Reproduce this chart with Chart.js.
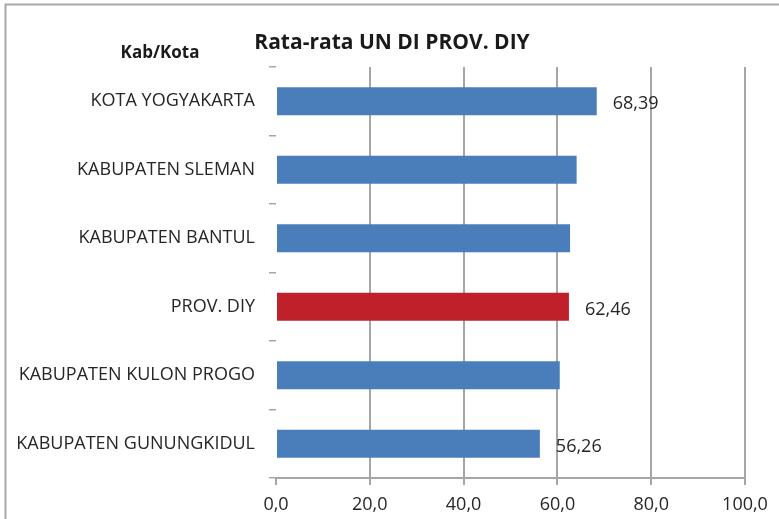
<!DOCTYPE html>
<html>
<head>
<meta charset="utf-8">
<script src="https://cdn.jsdelivr.net/npm/chart.js@4/dist/chart.umd.min.js"></script>
<style>
  html, body { margin: 0; padding: 0; background: #fff; }
  #wrap { width: 779px; height: 519px; position: relative; }
</style>
</head>
<body>
<div id="wrap"><canvas id="chart"></canvas></div>
<script>
  const categories = ['KOTA YOGYAKARTA', 'KABUPATEN SLEMAN', 'KABUPATEN BANTUL', 'PROV. DIY', 'KABUPATEN KULON PROGO', 'KABUPATEN GUNUNGKIDUL'];
  const values = [68.39, 64.1, 62.7, 62.46, 60.5, 56.26];
  const barColors = ['#4a7ebb', '#4a7ebb', '#4a7ebb', '#c0202a', '#4a7ebb', '#4a7ebb'];
  const showValue = [true, false, false, true, false, true];
  const xTicks = [0, 20, 40, 60, 80, 100];

  const FONT = "'Open Sans', sans-serif";
  const GRID = '#a6a6a6';
  const TEXT = '#262626';

  const fmt = (v, d) => v.toFixed(d).replace('.', ',');

  // frame, title and the axis caption
  const decor = {
    id: 'decor',
    beforeDraw(chart) {
      const c = chart.ctx;
      c.save();
      c.strokeStyle = '#a8a8a8';
      c.lineWidth = 2;
      c.beginPath();
      c.moveTo(5.5, 519);
      c.lineTo(5.5, 4.5);
      c.lineTo(779, 4.5);
      c.stroke();
      c.restore();
    },
    afterDraw(chart) {
      const c = chart.ctx;
      c.save();
      c.fillStyle = '#1a1a1a';
      c.textBaseline = 'middle';
      c.textAlign = 'center';
      c.font = "bold 21px " + FONT;
      c.fillText('Rata-rata UN DI PROV. DIY', 392, 43);
      c.font = "bold 17px " + FONT;
      c.fillText('Kab/Kota', 160, 53);
      c.restore();
    }
  };

  const valueLabels = {
    id: 'valueLabels',
    afterDatasetsDraw(chart) {
      const c = chart.ctx;
      const meta = chart.getDatasetMeta(0);
      c.save();
      c.fillStyle = TEXT;
      c.font = "18px " + FONT;
      c.textBaseline = 'middle';
      c.textAlign = 'left';
      meta.data.forEach((bar, i) => {
        if (!showValue[i]) return;
        c.fillText(fmt(values[i], 2), bar.x + 16, bar.y + 3);
      });
      c.restore();
    }
  };

  new Chart(document.getElementById('chart'), {
    type: 'bar',
    data: {
      labels: categories,
      datasets: [{
        data: values,
        backgroundColor: barColors,
        borderWidth: 0,
        categoryPercentage: 1,
        barPercentage: 0.41
      }]
    },
    options: {
      indexAxis: 'y',
      responsive: true,
      maintainAspectRatio: false,
      animation: false,
      layout: { padding: { top: 67, right: 34, left: 0, bottom: 0 } },
      plugins: { legend: { display: false }, tooltip: { enabled: false } },
      scales: {
        x: {
          min: 0,
          max: 100,
          afterBuildTicks: (s) => { s.ticks = xTicks.map(v => ({ value: v })); },
          afterFit: (s) => { s.height = 41; },
          ticks: {
            color: TEXT,
            font: { family: FONT, size: 18 },
            padding: 9,
            callback: (v) => fmt(v, 1)
          },
          grid: {
            color: (ctx) => ctx.tick && ctx.tick.value === 0 ? 'rgba(0,0,0,0)' : GRID,
            tickColor: GRID,
            lineWidth: 2,
            tickLength: 7
          },
          border: { display: true, color: GRID, width: 2 }
        },
        y: {
          afterFit: (s) => { s.width = 276; },
          ticks: {
            color: TEXT,
            font: { family: FONT, size: 18 },
            padding: 14
          },
          grid: {
            drawOnChartArea: false,
            offset: true,
            color: GRID,
            lineWidth: 1.5,
            tickLength: 7
          },
          border: { display: false }
        }
      }
    },
    plugins: [decor, valueLabels]
  });
</script>
</body>
</html>
